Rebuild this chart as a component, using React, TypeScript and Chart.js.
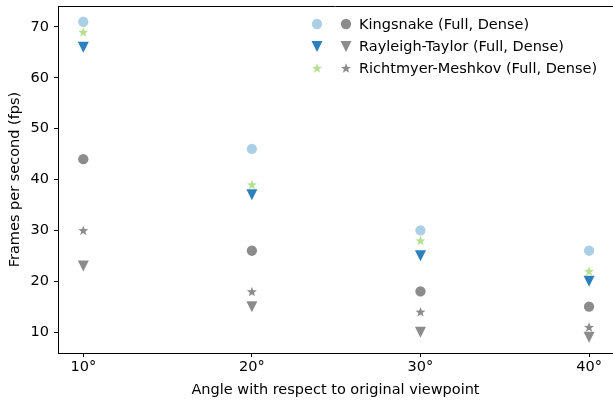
import React, { useEffect, useRef } from "react";
import { Chart, registerables } from "chart.js";

Chart.register(...registerables);

const angles = [10, 20, 30, 40];
const kingsnakeFull = [71, 46, 30, 26];
const kingsnakeDense = [44, 26, 18, 15];
const rayleighFull = [66, 37, 25, 20];
const rayleighDense = [23, 15, 10, 9];
const richtmyerFull = [69, 39, 28, 22];
const richtmyerDense = [30, 18, 14, 11];
const legendLabels = [
  "Kingsnake (Full, Dense)",
  "Rayleigh-Taylor (Full, Dense)",
  "Richtmyer-Meshkov (Full, Dense)",
];
const yTicks = [10, 20, 30, 40, 50, 60, 70];

const C_LIGHTBLUE = "#abd0e6";
const C_BLUE = "#2c80bb";
const C_GREEN = "#b6e08f";
const C_GRAY = "#8c8c8c";
const FONT = "'DejaVu Sans', sans-serif";
const FS = 14.5;

function drawMarker(ctx: CanvasRenderingContext2D, shape: string, color: string, size: number, cx: number, cy: number) {
  const r = size / 2;
  ctx.save();
  ctx.fillStyle = color;
  ctx.beginPath();
  if (shape === "circle") {
    ctx.arc(cx, cy, r, 0, Math.PI * 2);
  } else if (shape === "tri") {
    ctx.moveTo(cx - r, cy - r);
    ctx.lineTo(cx + r, cy - r);
    ctx.lineTo(cx, cy + r);
    ctx.closePath();
  } else {
    const outer = r;
    const inner = r * 0.42;
    for (let i = 0; i < 10; i++) {
      const rad = i % 2 === 0 ? outer : inner;
      const a = -Math.PI / 2 + (i * Math.PI) / 5;
      const x = cx + rad * Math.cos(a);
      const y = cy + rad * Math.sin(a) + r * 0.1;
      if (i === 0) ctx.moveTo(x, y);
      else ctx.lineTo(x, y);
    }
    ctx.closePath();
  }
  ctx.fill();
  ctx.restore();
}

const MARKERS: [string, string, number][] = [
  ["circle", C_LIGHTBLUE, 10.3],
  ["circle", C_GRAY, 10.3],
  ["tri", C_BLUE, 11],
  ["tri", C_GRAY, 11],
  ["star", C_GREEN, 10.5],
  ["star", C_GRAY, 10.5],
];

export default function App() {
  const ref = useRef<HTMLCanvasElement>(null);
  useEffect(() => {
    const mk = (vals: number[]) => vals.map((v, i) => ({ x: angles[i], y: v }));
    const ds = (data: number[], label: string) => ({
      label,
      data: mk(data),
      pointRadius: 0,
      pointHoverRadius: 0,
      showLine: false,
    });

    const markerPlugin = {
      id: "markers",
      afterDatasetsDraw(chart: any) {
        const ctx = chart.ctx;
        chart.data.datasets.forEach((_: any, di: number) => {
          const meta = chart.getDatasetMeta(di);
          const [shape, color, size] = MARKERS[di];
          meta.data.forEach((pt: any) => drawMarker(ctx, shape, color, size, pt.x, pt.y));
        });
      },
    };

    const legendPlugin = {
      id: "customLegend",
      afterDraw(chart: any) {
        const ctx = chart.ctx;
        const ys = [24, 46.5, 68];
        ctx.save();
        ctx.font = `${FS}px ${FONT}`;
        ctx.textBaseline = "middle";
        ctx.textAlign = "left";
        for (let i = 0; i < 3; i++) {
          const y = ys[i];
          const a = MARKERS[i * 2];
          const b = MARKERS[i * 2 + 1];
          drawMarker(ctx, a[0], a[1], a[2], 317, y);
          drawMarker(ctx, b[0], b[1], b[2], 346, y);
          ctx.fillStyle = "#000";
          ctx.fillText(legendLabels[i], 359, y + 1);
        }
        ctx.restore();
      },
    };

    const framePlugin = {
      id: "frame",
      afterDraw(chart: any) {
        const { ctx, chartArea: a, width } = chart;
        ctx.save();
        // the right spine of the reference lies just beyond the canvas edge
        ctx.fillStyle = "#fff";
        ctx.fillRect(width - 2, a.top + 1, 2, a.bottom - a.top - 1.5);
        ctx.strokeStyle = "#000";
        ctx.lineWidth = 1;
        ctx.beginPath();
        ctx.moveTo(a.left, a.top + 0.5);
        ctx.lineTo(width, a.top + 0.5);
        ctx.moveTo(a.left + 0.5, a.top);
        ctx.lineTo(a.left + 0.5, a.bottom);
        ctx.stroke();
        ctx.restore();
      },
    };

    const chart = new Chart(ref.current!, {
      type: "scatter",
      data: {
        datasets: [
          ds(kingsnakeFull, "Kingsnake Full"),
          ds(kingsnakeDense, "Kingsnake Dense"),
          ds(rayleighFull, "Rayleigh-Taylor Full"),
          ds(rayleighDense, "Rayleigh-Taylor Dense"),
          ds(richtmyerFull, "Richtmyer-Meshkov Full"),
          ds(richtmyerDense, "Richtmyer-Meshkov Dense"),
        ] as any,
      },
      options: {
        responsive: false,
        animation: false,
        events: [],
        layout: { autoPadding: false, padding: { top: 6, right: 0, left: 0, bottom: 0 } },
        plugins: { legend: { display: false }, tooltip: { enabled: false } },
        scales: {
          x: {
            type: "linear",
            min: 8.5,
            max: 41.42,
            afterBuildTicks: (s: any) => {
              s.ticks = angles.map((v) => ({ value: v }));
            },
            afterFit: (s: any) => {
              s.height = 49;
              s.paddingLeft = 0;
              s.paddingRight = 0;
            },
            grid: {
              drawOnChartArea: false,
              drawTicks: true,
              tickLength: 4,
              color: "#000",
            },
            border: { display: true, color: "#000" },
            ticks: {
              color: "#000",
              font: { family: FONT, size: FS },
              padding: 2,
              maxRotation: 0,
              callback: (v: any) => `${v}°`,
            },
            title: {
              display: true,
              text: "Angle with respect to original viewpoint",
              color: "#000",
              font: { family: FONT, size: FS },
              padding: { top: 0, bottom: 3 },
            },
          },
          y: {
            type: "linear",
            min: 5.9,
            max: 74.1,
            afterBuildTicks: (s: any) => {
              s.ticks = yTicks.map((v) => ({ value: v }));
            },
            afterFit: (s: any) => {
              s.width = 58;
              s.paddingTop = 0;
              s.paddingBottom = 0;
            },
            grid: {
              drawOnChartArea: false,
              drawTicks: true,
              tickLength: 4,
              color: "#000",
            },
            border: { display: true, color: "#000" },
            ticks: {
              color: "#000",
              font: { family: FONT, size: FS },
              padding: 5,
            },
            title: {
              display: true,
              text: "Frames per second (fps)",
              color: "#000",
              font: { family: FONT, size: FS },
              padding: { top: 7, bottom: 0 },
            },
          },
        },
      } as any,
      plugins: [markerPlugin, legendPlugin, framePlugin],
    });
    return () => chart.destroy();
  }, []);

  return (
    <div style={{ position: "fixed", left: 0, top: 0, width: 613, height: 402 }}>
      <canvas ref={ref} width={613} height={402} style={{ display: "block" }} />
    </div>
  );
}
